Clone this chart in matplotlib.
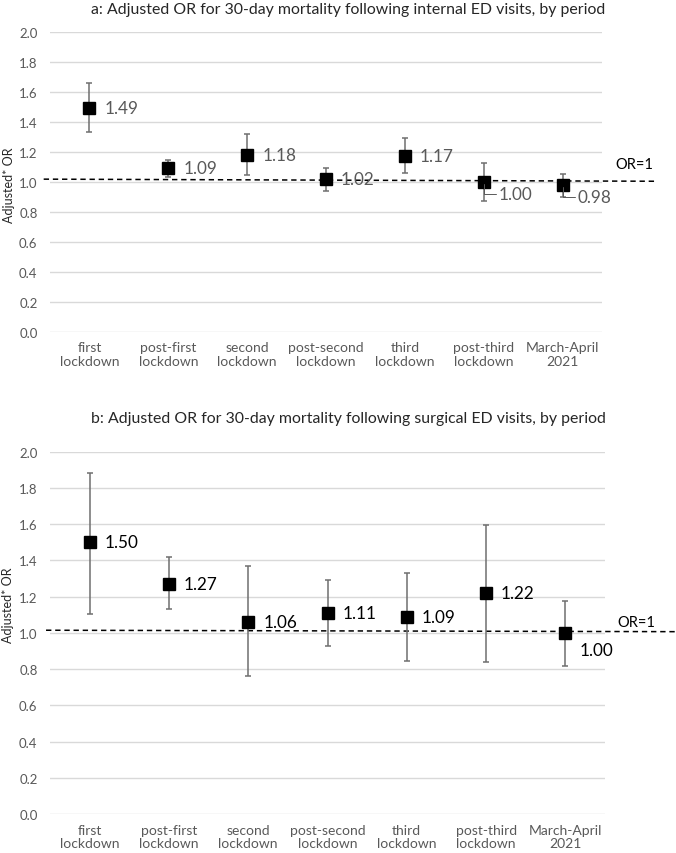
import matplotlib
matplotlib.use("Agg")
import matplotlib.pyplot as plt

plt.rcParams['font.family'] = ['Lato', 'DejaVu Sans']

periods = ['first\nlockdown', 'post-first\nlockdown', 'second\nlockdown', 'post-second\nlockdown',
           'third\nlockdown', 'post-third\nlockdown', 'March-April\n2021']

# panel a: internal ED visits
or_int = [1.49, 1.09, 1.18, 1.02, 1.17, 1.00, 0.98]
lo_int = [1.33, 1.03, 1.045, 0.94, 1.06, 0.87, 0.90]
hi_int = [1.655, 1.145, 1.32, 1.09, 1.29, 1.125, 1.05]

# panel b: surgical ED visits
or_sur = [1.50, 1.27, 1.06, 1.11, 1.09, 1.22, 1.00]
lo_sur = [1.105, 1.13, 0.76, 0.93, 0.845, 0.84, 0.82]
hi_sur = [1.885, 1.42, 1.37, 1.29, 1.33, 1.595, 1.175]

yticks = [0.0, 0.2, 0.4, 0.6, 0.8, 1.0, 1.2, 1.4, 1.6, 1.8, 2.0]

W, H = 676, 854
fig = plt.figure(figsize=(W / 100, H / 100), dpi=100)

GRAY = '#595959'


def panel(rect, vals, lo, hi, title, title_y, txt_color, bar_color, cap, ref_line,
          label_offsets, ylab_y, or1_xy):
    ax = fig.add_axes(rect)
    x = list(range(len(vals)))
    err = [[v - l for v, l in zip(vals, lo)], [h - v for v, h in zip(vals, hi)]]
    ax.errorbar(x, vals, yerr=err, fmt='none', ecolor=bar_color, elinewidth=1.1,
                capsize=cap, capthick=1.1, zorder=3)
    ax.plot(x, vals, 's', color='black', markersize=9.3, zorder=4)

    # OR=1 reference line (slightly tilted in the original)
    (x0, y0), (x1, y1) = ref_line
    ax.plot([x0, x1], [y0, y1], '--', color='black', lw=1.1, dashes=(3.5, 2.5),
            clip_on=False, zorder=2)
    ax.text(or1_xy[0], or1_xy[1], 'OR=1', fontsize=10.5, color='black', ha='left', va='center')

    for i, v in enumerate(vals):
        dx, dy, leader = label_offsets.get(i, (15, 0, False))
        kw = dict(xytext=(dx, dy), textcoords='offset pixels', fontsize=12.3,
                  color=txt_color, va='center', ha='left', zorder=5)
        if leader:
            kw['arrowprops'] = dict(arrowstyle='-', color=GRAY, lw=0.7, shrinkA=0, shrinkB=2,
                                    connectionstyle='angle,angleA=0,angleB=90,rad=0')
        ax.annotate(f'{v:.2f}', (i, v), **kw)

    ax.set_xlim(-0.5, len(vals) - 0.5)
    ax.set_ylim(0, 2.0)
    ax.set_yticks(yticks)
    ax.set_yticklabels([f'{t:.1f}' for t in yticks])
    ax.set_xticks(x)
    ax.set_xticklabels(periods, linespacing=1.12)
    ax.tick_params(axis='both', length=0, colors=GRAY)
    ax.tick_params(axis='y', pad=9, labelsize=9.5)
    ax.tick_params(axis='x', pad=7, labelsize=10)
    ax.grid(axis='y', color='#d9d9d9', lw=1.0, zorder=0)
    ax.set_axisbelow(True)
    for s in ax.spines.values():
        s.set_visible(False)
    ax.set_ylabel('Adjusted* OR', fontsize=9, color='#262626')
    ax.yaxis.set_label_coords(-0.064, ylab_y)
    fig.text(348.5 / W, 1 - title_y / H, title, ha='center', va='center', fontsize=11.4,
             color='#262626')
    return ax


panel([50 / W, 1 - 332.7 / H, 552 / W, 300 / H], or_int, lo_int, hi_int,
      'a: Adjusted OR for 30-day mortality following internal ED visits, by period', 10,
      GRAY, '#6f6f6f', 1.9, ((-0.58, 1.017), (7.16, 1.003)),
      {5: (15, -12, True), 6: (15, -12, True)}, 0.49, (6.67, 1.115))

panel([50 / W, 1 - 815.2 / H, 555 / W, 362.5 / H], or_sur, lo_sur, hi_sur,
      'b: Adjusted OR for 30-day mortality following surgical ED visits, by period', 419,
      'black', '#6f6f6f', 2.4, ((-0.55, 1.015), (7.43, 1.007)),
      {6: (14, -17, False)}, 0.58, (6.65, 1.06))

fig.savefig('out.png', dpi=100)
